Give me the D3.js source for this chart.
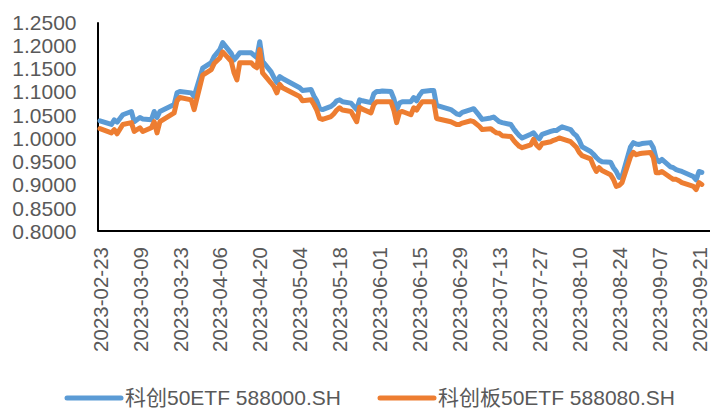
<!DOCTYPE html>
<meta charset="utf-8">
<head>
    <title>科创50ETF</title>
</head>
<style>
	body {
	  margin: 0;
	  background: #fff;
	}
	svg text {
	  font-family: "Liberation Sans", Arial, "Noto Sans CJK SC", sans-serif;
	  fill: #595959;
	}
	.axis path {
	  stroke: #000;
	  stroke-width: 2px;
	  fill: none;
	}
	.line {
	  fill: none;
	  stroke-width: 5px;
	  stroke-linejoin: round;
	  stroke-linecap: round;
	}
</style>
<body>
<script src="https://cdn.jsdelivr.net/npm/d3@7"></script>

<script>
// data
var dates = ["2023-02-23","2023-02-27","2023-02-28","2023-03-01","2023-03-03","2023-03-06","2023-03-07","2023-03-09",
  "2023-03-10","2023-03-13","2023-03-14","2023-03-15","2023-03-16","2023-03-21","2023-03-22","2023-03-23",
  "2023-03-27","2023-03-28","2023-03-31","2023-04-03","2023-04-04","2023-04-06","2023-04-07","2023-04-10",
  "2023-04-11","2023-04-12","2023-04-13","2023-04-17","2023-04-18","2023-04-19","2023-04-20","2023-04-21",
  "2023-04-24","2023-04-25","2023-04-26","2023-04-27","2023-04-28","2023-05-04","2023-05-05","2023-05-08",
  "2023-05-09","2023-05-10","2023-05-11","2023-05-12","2023-05-15","2023-05-16","2023-05-17","2023-05-18",
  "2023-05-19","2023-05-22","2023-05-24","2023-05-25","2023-05-26","2023-05-29","2023-05-30","2023-05-31",
  "2023-06-01","2023-06-02","2023-06-05","2023-06-06","2023-06-07","2023-06-08","2023-06-09","2023-06-12",
  "2023-06-13","2023-06-14","2023-06-15","2023-06-16","2023-06-19","2023-06-20","2023-06-21","2023-06-26",
  "2023-06-28","2023-06-29","2023-06-30","2023-07-03","2023-07-04","2023-07-06","2023-07-07","2023-07-10",
  "2023-07-11","2023-07-12","2023-07-13","2023-07-14","2023-07-17","2023-07-18","2023-07-19","2023-07-20",
  "2023-07-21","2023-07-24","2023-07-25","2023-07-26","2023-07-27","2023-07-28","2023-07-31","2023-08-01",
  "2023-08-02","2023-08-03","2023-08-04","2023-08-07","2023-08-08","2023-08-09","2023-08-10","2023-08-11",
  "2023-08-14","2023-08-15","2023-08-16","2023-08-17","2023-08-18","2023-08-21","2023-08-22","2023-08-23",
  "2023-08-24","2023-08-25","2023-08-28","2023-08-29","2023-08-30","2023-08-31","2023-09-01","2023-09-04",
  "2023-09-05","2023-09-06","2023-09-07","2023-09-08","2023-09-11","2023-09-12","2023-09-13","2023-09-14",
  "2023-09-15","2023-09-18","2023-09-19","2023-09-20","2023-09-21","2023-09-22"];

var etf588000 = [1.037,1.029,1.039,1.034,1.050,1.057,1.035,1.044,
  1.041,1.039,1.057,1.044,1.057,1.072,1.097,1.100,
  1.097,1.089,1.150,1.162,1.175,1.190,1.205,1.182,
  1.168,1.175,1.183,1.183,1.178,1.173,1.207,1.165,
  1.142,1.130,1.119,1.132,1.128,1.108,1.102,1.104,
  1.090,1.080,1.063,1.061,1.068,1.073,1.080,1.082,
  1.078,1.075,1.061,1.082,1.080,1.076,1.095,1.100,
  1.100,1.101,1.100,1.085,1.060,1.075,1.078,1.078,
  1.087,1.080,1.092,1.100,1.102,1.102,1.070,1.061,
  1.052,1.050,1.055,1.061,1.063,1.048,1.040,1.043,
  1.045,1.040,1.035,1.033,1.029,1.020,1.012,1.005,
  1.000,1.008,1.011,1.003,0.998,1.008,1.014,1.016,
  1.016,1.020,1.024,1.018,1.010,1.005,0.995,0.981,
  0.971,0.965,0.958,0.952,0.949,0.948,0.936,0.928,
  0.915,0.917,0.981,0.990,0.987,0.986,0.988,0.990,
  0.979,0.955,0.949,0.954,0.938,0.936,0.932,0.930,
  0.928,0.920,0.917,0.910,0.928,0.926];

var etf588080 = [1.020,1.011,1.018,1.009,1.029,1.033,1.014,1.022,
  1.014,1.022,1.035,1.011,1.035,1.054,1.080,1.087,
  1.082,1.061,1.135,1.147,1.160,1.172,1.185,1.165,
  1.140,1.125,1.162,1.162,1.155,1.151,1.190,1.140,
  1.118,1.110,1.097,1.115,1.108,1.089,1.080,1.082,
  1.072,1.060,1.042,1.040,1.046,1.052,1.060,1.065,
  1.060,1.057,1.035,1.066,1.062,1.054,1.072,1.078,
  1.078,1.078,1.078,1.060,1.033,1.055,1.057,1.050,
  1.065,1.060,1.070,1.078,1.078,1.078,1.042,1.035,
  1.029,1.029,1.032,1.037,1.035,1.025,1.018,1.020,
  1.015,1.011,1.010,1.005,1.003,0.995,0.988,0.982,
  0.979,0.985,0.997,0.985,0.979,0.988,0.992,0.995,
  0.997,1.000,0.998,0.992,0.986,0.980,0.969,0.962,
  0.955,0.940,0.928,0.936,0.930,0.921,0.911,0.896,
  0.898,0.904,0.960,0.969,0.964,0.966,0.967,0.969,
  0.958,0.925,0.925,0.928,0.915,0.911,0.911,0.908,
  0.904,0.898,0.896,0.889,0.904,0.900];

var seriesNames = ["科创50ETF 588000.SH", "科创板50ETF 588080.SH"];
var seriesColors = ["#5B9BD5", "#ED7D31"];

var xTickLabels = ["2023-02-23","2023-03-09","2023-03-23","2023-04-06","2023-04-20","2023-05-04","2023-05-18",
  "2023-06-01","2023-06-15","2023-06-29","2023-07-13","2023-07-27","2023-08-10","2023-08-24","2023-09-07","2023-09-21"];
var yTicks = [0.80, 0.85, 0.90, 0.95, 1.00, 1.05, 1.10, 1.15, 1.20, 1.25];

var width = 710, height = 409;
var plot = {left: 97.5, right: 710, top: 21.7, bottom: 231};

var parse = d3.timeParse("%Y-%m-%d");

var svg = d3.select("body").append("svg")
    .attr("width", width)
    .attr("height", height);

// x: date axis, one label every 14 days
var xScale = d3.scaleTime()
    .domain([parse(xTickLabels[0]), parse(xTickLabels[xTickLabels.length - 1])])
    .range([100, 699]);

var yScale = d3.scaleLinear()
    .domain([0.80, 1.25])
    .range([plot.bottom, plot.top]);

// y-axis
var yAxis = d3.axisLeft(yScale)
    .tickValues(yTicks)
    .tickFormat(d3.format(".4f"))
    .tickSize(0)
    .tickPadding(21);

svg.append("g")
    .attr("class", "axis")
    .attr("transform", "translate(" + plot.left + ",0)")
    .call(yAxis)
  .selectAll("text")
    .style("font-size", "21px")
    .attr("dy", "0.35em");

// x-axis
var xAxis = d3.axisBottom(xScale)
    .tickValues(xTickLabels.map(parse))
    .tickFormat(d3.timeFormat("%Y-%m-%d"))
    .tickSize(0);

var gx = svg.append("g")
    .attr("class", "axis")
    .attr("transform", "translate(0," + plot.bottom + ")")
    .call(xAxis);

gx.select(".domain").attr("d", "M" + plot.left + ",0H" + plot.right);

gx.selectAll("text")
    .style("font-size", "20.5px")
    .style("text-anchor", "end")
    .attr("transform", "rotate(-90)")
    .attr("x", -16)
    .attr("y", 0)
    .attr("dy", "0.35em");

// lines
var line = d3.line()
    .x(function(d) { return xScale(d.date); })
    .y(function(d) { return yScale(d.value); });

[etf588000, etf588080].forEach(function(values, i) {
  var pts = dates.map(function(d, j) { return {date: parse(d), value: values[j]}; });
  svg.append("path")
      .datum(pts)
      .attr("class", "line")
      .attr("stroke", seriesColors[i])
      .attr("d", line);
});

// legend
var legendX = [67, 380];
var legend = svg.selectAll(".legend")
    .data(seriesNames)
    .enter().append("g")
    .attr("class", "legend")
    .attr("transform", function(d, i) { return "translate(" + legendX[i] + ",398)"; });

legend.append("line")
    .attr("x1", 0).attr("x2", 54)
    .attr("y1", 0).attr("y2", 0)
    .attr("stroke", function(d, i) { return seriesColors[i]; })
    .attr("stroke-width", 5)
    .attr("stroke-linecap", "round");

legend.append("text")
    .attr("x", 58)
    .attr("dy", "0.35em")
    .style("font-size", "21px")
    .text(function(d) { return d; });
</script>
</body>
